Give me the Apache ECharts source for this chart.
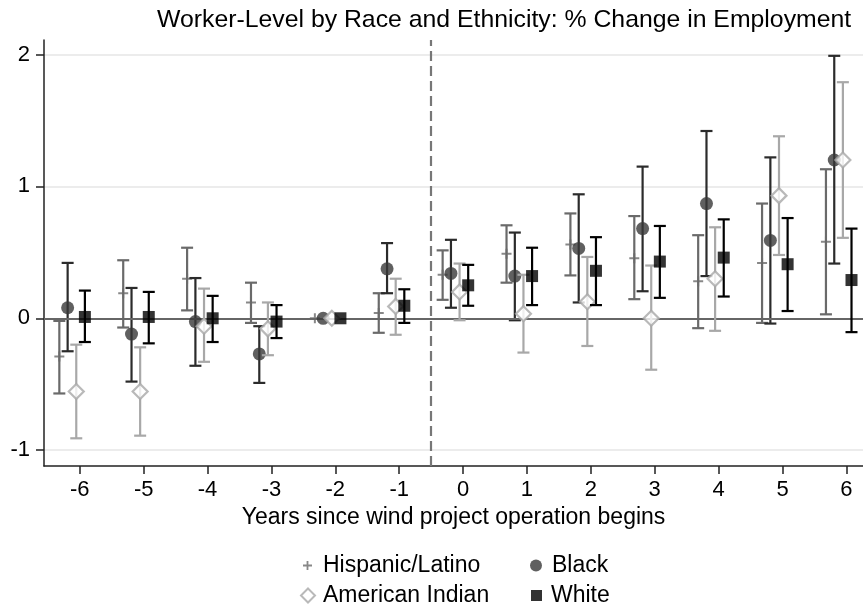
<!DOCTYPE html>
<html>
<head>
<meta charset="utf-8">
<script src="https://cdn.jsdelivr.net/npm/echarts@6/dist/echarts.min.js"></script>
<style>html,body{margin:0;padding:0;background:#fff;}#c{width:863px;height:611px;}</style>
</head>
<body>
<div id="c"></div>
<script>
// ---- data ----
const years = [-6, -5, -4, -3, -2, -1, 0, 1, 2, 3, 4, 5, 6];
const yTicks = [-1, 0, 1, 2];

const hispanic   = [-0.29, 0.19, 0.30, 0.12, 0, 0.04, 0.33, 0.49, 0.56, 0.455, 0.28, 0.42, 0.58];
const hispanicLo = [-0.57, -0.07, 0.06, -0.035, 0, -0.11, 0.14, 0.27, 0.325, 0.145, -0.075, -0.035, 0.03];
const hispanicHi = [-0.02, 0.44, 0.535, 0.27, 0, 0.19, 0.515, 0.705, 0.795, 0.775, 0.63, 0.87, 1.13];

const black   = [0.08, -0.12, -0.025, -0.27, 0, 0.375, 0.34, 0.32, 0.53, 0.68, 0.87, 0.59, 1.20];
const blackLo = [-0.25, -0.48, -0.36, -0.49, 0, 0.19, 0.08, -0.015, 0.12, 0.205, 0.32, -0.04, 0.415];
const blackHi = [0.42, 0.23, 0.305, -0.06, 0, 0.57, 0.595, 0.65, 0.94, 1.15, 1.42, 1.22, 1.99];

const amIndian   = [-0.555, -0.555, -0.06, -0.08, 0, 0.09, 0.20, 0.035, 0.125, 0.00, 0.30, 0.93, 1.20];
const amIndianLo = [-0.91, -0.89, -0.33, -0.28, 0, -0.125, -0.015, -0.26, -0.21, -0.39, -0.095, 0.48, 0.61];
const amIndianHi = [-0.20, -0.22, 0.225, 0.12, 0, 0.30, 0.415, 0.33, 0.465, 0.40, 0.69, 1.38, 1.79];

const white   = [0.01, 0.01, 0.00, -0.025, 0, 0.095, 0.25, 0.32, 0.36, 0.43, 0.46, 0.41, 0.29];
const whiteLo = [-0.18, -0.19, -0.18, -0.15, 0, -0.035, 0.095, 0.10, 0.10, 0.155, 0.165, 0.055, -0.105];
const whiteHi = [0.21, 0.20, 0.17, 0.10, 0, 0.22, 0.405, 0.535, 0.615, 0.70, 0.75, 0.76, 0.68];

// ---- styling ----
const FONT = 'Liberation Sans, Arial, sans-serif';
const PLUS = 'path://M4,0h2v4h4v2h-4v4h-2v-4h-4v-2h4z';
const groups = [
  {name: 'Hispanic/Latino', v: hispanic, lo: hispanicLo, hi: hispanicHi, off: -0.32, bar: '#6a6a6a',
   symbol: PLUS, size: 10, fill: '#6a6a6a', border: null},
  {name: 'Black', v: black, lo: blackLo, hi: blackHi, off: -0.19, bar: '#2b2b2b',
   symbol: 'circle', size: 13, fill: '#383838', border: null},
  {name: 'American Indian', v: amIndian, lo: amIndianLo, hi: amIndianHi, off: -0.055, bar: '#a8a8a8',
   symbol: 'diamond', size: 15, fill: '#ffffff', border: '#a8a8a8'},
  {name: 'White', v: white, lo: whiteLo, hi: whiteHi, off: 0.08, bar: '#000000',
   symbol: 'rect', size: 12, fill: '#000000', border: null}
];

const series = [];
groups.forEach((g, gi) => {
  series.push({
    name: g.name + ' CI',
    type: 'custom',
    z: 2 + gi * 2,
    data: years.map((y, i) => [y + g.off, g.lo[i], g.hi[i]]),
    renderItem: function (params, api) {
      const x = api.value(0), lo = api.value(1), hi = api.value(2);
      if (lo === hi) return null;
      const a = api.coord([x, lo]), b = api.coord([x, hi]);
      const w = 6;
      const st = {stroke: g.bar, lineWidth: 2.2};
      return {
        type: 'group',
        children: [
          {type: 'line', shape: {x1: a[0], y1: a[1], x2: b[0], y2: b[1]}, style: st},
          {type: 'line', shape: {x1: a[0] - w, y1: a[1], x2: a[0] + w, y2: a[1]}, style: st},
          {type: 'line', shape: {x1: b[0] - w, y1: b[1], x2: b[0] + w, y2: b[1]}, style: st}
        ]
      };
    },
    silent: true
  });
  const sc = {
    name: g.name,
    type: 'scatter',
    z: 3 + gi * 2,
    symbol: g.symbol,
    symbolSize: g.size,
    data: years.map((y, i) => [y + g.off, g.v[i]]),
    itemStyle: g.border ? {color: g.fill, borderColor: g.border, borderWidth: 2.2} : {color: g.fill},
    emphasis: {disabled: true}
  };
  if (gi === 0) {
    sc.markLine = {
      silent: true, symbol: 'none', label: {show: false},
      data: [
        {yAxis: 0, lineStyle: {color: '#666666', width: 1.8, type: 'solid'}},
        {xAxis: -0.5, lineStyle: {color: '#777777', width: 2.2, type: [10, 5]}}
      ]
    };
  }
  series.push(sc);
});

const legendPos = [
  {name: 'Hispanic/Latino', left: 298, top: 549, w: 9, pad: 6},
  {name: 'Black', left: 525, top: 549, w: 12, pad: 5},
  {name: 'American Indian', left: 295, top: 579, w: 14, pad: 3},
  {name: 'White', left: 526, top: 579, w: 11, pad: 4}
];
const legends = legendPos.map(p => {
  const g = groups.find(x => x.name === p.name);
  return {
    left: p.left, top: p.top, orient: 'horizontal', selectedMode: false,
    itemWidth: p.w, itemHeight: p.w, itemGap: 0,
    textStyle: {fontSize: 23, color: '#000', fontFamily: FONT, padding: [0, 0, 0, p.pad]},
    data: [{
      name: p.name, icon: g.symbol,
      itemStyle: g.border ? {color: '#fff', borderColor: g.border, borderWidth: 2} : {color: g.fill, borderWidth: 0}
    }]
  };
});

const chart = echarts.init(document.getElementById('c'), null, {renderer: 'canvas'});
chart.setOption({
  animation: false,
  backgroundColor: '#fff',
  title: {
    text: 'Worker-Level by Race and Ethnicity: % Change in Employment',
    left: 152, top: 3,
    textStyle: {fontSize: 24.8, fontWeight: 'normal', color: '#000', fontFamily: FONT}
  },
  legend: legends,
  grid: {left: 44, right: 0, top: 40, bottom: 145, containLabel: false},
  xAxis: {
    type: 'value', min: -6.56, max: 6.26,
    name: 'Years since wind project operation begins',
    nameLocation: 'middle', nameGap: 33,
    nameTextStyle: {fontSize: 23, color: '#000', fontFamily: FONT},
    axisLine: {show: true, onZero: false, lineStyle: {color: '#222', width: 1.5}},
    axisTick: {show: true, length: 8, inside: false, customValues: years, lineStyle: {color: '#222', width: 1.5}},
    axisLabel: {customValues: years, fontSize: 22, color: '#000', fontFamily: FONT, margin: 13},
    splitLine: {show: false}
  },
  yAxis: {
    type: 'value', min: -1.12, max: 2.11,
    axisLine: {show: true, onZero: false, lineStyle: {color: '#222', width: 1.5}},
    axisTick: {show: true, length: 8, inside: false, customValues: yTicks, lineStyle: {color: '#222', width: 1.5}},
    axisLabel: {customValues: yTicks, fontSize: 22, color: '#000', fontFamily: FONT, margin: 14},
    splitLine: {show: true, lineStyle: {color: '#e6e6e6', width: 1.5}}
  },
  series: series
});
</script>
</body>
</html>
